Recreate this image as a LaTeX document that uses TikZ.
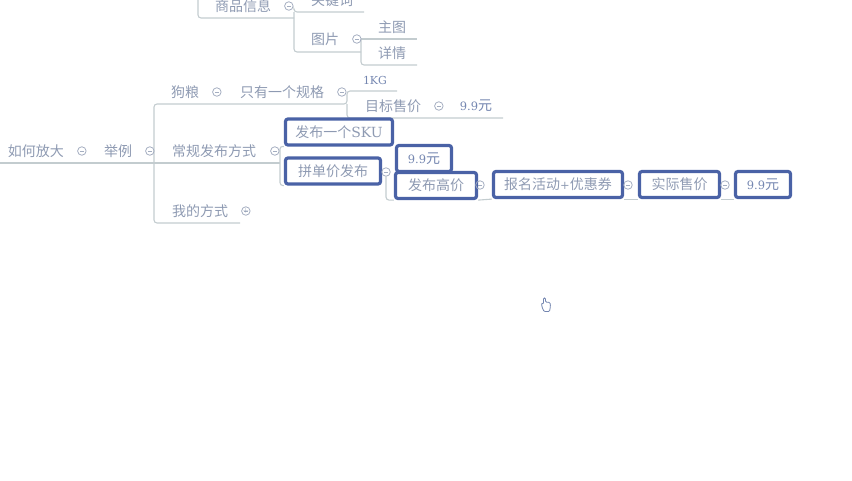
\documentclass[tikz,border=0pt]{standalone}
\usepackage{fontspec}
\setmainfont{Noto Sans CJK SC}
\newfontfamily\latn{DejaVu Serif}
\usetikzlibrary{positioning,backgrounds}
\definecolor{topicgray}{HTML}{8E9AB2}
\definecolor{linegray}{HTML}{C3CCCF}
\definecolor{boxblue}{HTML}{4A62A6}
\definecolor{numblue}{HTML}{7486B0}

\begin{document}
\begin{tikzpicture}[
  x=1pt, y=-1pt,
  font=\fontsize{14pt}{15pt}\selectfont,
  topic/.style={text=topicgray, inner sep=0pt},
  num/.style={text=numblue, inner sep=0pt},
  fold/.style={draw=topicgray!80, line width=0.8pt, circle, inner sep=0pt, minimum size=8.5pt,
               path picture={\draw[topicgray!80, line width=0.7pt] ([xshift=-2pt]path picture bounding box.center) -- ([xshift=2pt]path picture bounding box.center);}},
  keybox/.style={draw=boxblue, line width=3.2pt, rounded corners=2.5pt, minimum height=26pt,
                 inner sep=0pt, text=topicgray},
  branch/.style={draw=linegray, line width=1.1pt, rounded corners=3pt}
]
\clip (0,0) rectangle (852,480);
% left spine
\node[topic] (howto) at (36,151) {如何放大};
\node[fold, right=13pt of howto] (f1) {};
\node[topic] (eg) at (118,151) {举例};
\node[fold, right=13pt of eg] (f2) {};
\node[topic] (usual) at (214,151) {常规发布方式};
\node[fold, right=14pt of usual] (f3) {};
\node[topic] (dog) at (185,92) {狗粮};
\node[fold, right=13pt of dog] (f4) {};
\node[topic] (spec) at (282,92) {只有一个规格};
\node[fold, right=13pt of spec] (f5) {};
\node[topic] (mine) at (200,211) {我的方式};
\node[fold, right=13pt of mine] (f6) {};
\node[font=\fontsize{7pt}{7pt}\selectfont, text=topicgray, inner sep=0pt] at (f6) {$+$};
% upper branch
\node[topic] (goods) at (243,6) {商品信息};
\node[fold, right=13pt of goods] (f7) {};
\node[topic] (kw) at (332,0) {关键词};
\node[topic] (pic) at (325,39) {图片};
\node[fold, right=13pt of pic] (f8) {};
\node[topic] (mainpic) at (392,27) {主图};
\node[topic] (detail) at (392,53) {详情};
% weight and price
\node[num, font=\fontsize{11pt}{13pt}\selectfont\latn] (kg) at (375,80) {1KG};
\node[topic] (target) at (393,106) {目标售价};
\node[fold, right=13pt of target] (f9) {};
\node[num] (price) at (476,106) {{\latn\fontsize{11.5pt}{13pt}\selectfont 9.9}元};
% highlighted boxes
\node[keybox, minimum width=107pt] (sku) at (339,132) {发布一个{\latn\fontsize{14pt}{15pt}\selectfont SKU}};
\node[keybox, minimum width=55pt, text=numblue] (p1) at (424,158.5) {{\latn\fontsize{11.5pt}{13pt}\selectfont 9.9}元};
\node[keybox, minimum width=95pt] (group) at (333,171) {拼单价发布};
\node[keybox, minimum width=81pt] (high) at (436,185.5) {发布高价};
\node[keybox, minimum width=129pt] (promo) at (558,184.5) {报名活动{\latn\fontsize{11.5pt}{13pt}\selectfont +}优惠券};
\node[keybox, minimum width=80pt] (real) at (679.5,184.5) {实际售价};
\node[keybox, minimum width=55pt, text=numblue] (p2) at (763,184.5) {{\latn\fontsize{11.5pt}{13pt}\selectfont 9.9}元};
\node[fold] (f10) at (386,172) {};
\node[fold] (f11) at (480,185) {};
\node[fold] (f12) at (628,185) {};
\node[fold] (f13) at (725,185) {};
% connectors
\coordinate (start) at (0,163);
\coordinate (hub) at (154,163);
\coordinate (hubend) at (280,163);
\coordinate (dogend) at (347,118);
\begin{scope}[on background layer]
\draw[branch] (start) -- (hubend);
\draw[branch] (hub) |- (347,104) -- (347,91) -- (397,91);
\draw[branch] (hub) |- (240,223);
\draw[branch] (347,104) -- (dogend) -- (503,118);
\draw[branch] (sku.south west) -- (280,146) -- (hubend) |- (group.south west);
\draw[branch] (198,0) |- (294,18);
\draw[branch] (294,10) -- (294,12) -- (364,12);
\draw[branch] (294,12) |- (361,52);
\draw[branch] (361,39) -- (417,39);
\draw[branch] (361,39) |- (417,65);
\draw[branch] (f10) |- (high.south west);
\draw[branch] (high.south east) -- (promo.south west);
\draw[branch] (promo.south east) -- (real.south west);
\draw[branch] (real.south east) -- (p2.south west);
\end{scope}
% cursor
\draw[draw=numblue, fill=white, line width=0.8pt, rounded corners=1pt]
  (543.5,298) -- (543.5,304) -- (541.5,303) -- (542,307) -- (544,311.5) -- (549.5,311.5)
  -- (550.5,306) -- (550,302.5) -- (545.5,302) -- (545.5,298) -- cycle;
\end{tikzpicture}
\end{document}
